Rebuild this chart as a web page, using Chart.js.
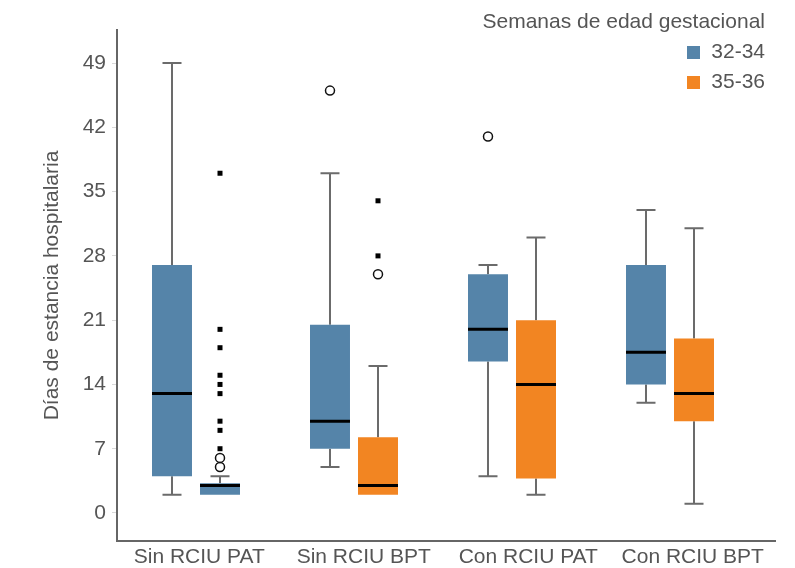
<!DOCTYPE html>
<html>
<head>
<meta charset="utf-8">
<script src="https://cdn.jsdelivr.net/npm/chart.js@4"></script>
<style>
  body { margin: 0; background: #fff; }
  #wrap { position: relative; width: 795px; height: 568px; }
  #legend { position: absolute; right: 30px; top: 6px; text-align: right;
            font: 21px 'Liberation Sans', Arial, sans-serif; color: #555; line-height: 30px; }
  .sw { display: inline-block; width: 13px; height: 13px; margin-right: 11px; vertical-align: -1px; }
</style>
</head>
<body>
<div id="wrap">
  <canvas id="ourBox" width="795" height="568"></canvas>
  <div id="legend">
    <div>Semanas de edad gestacional</div>
    <div><span class="sw" style="background:#5584a9"></span>32-34</div>
    <div><span class="sw" style="background:#f28522"></span>35-36</div>
  </div>
</div>
<script>
const categories = ['Sin RCIU PAT', 'Sin RCIU BPT', 'Con RCIU PAT', 'Con RCIU BPT'];
const seriesNames = ['32-34', '35-36'];

// 32-34 semanas
const min3234 = [2, 5, 4, 12];
const q1_3234 = [4, 7, 16.5, 14];
const med3234 = [13, 10, 20, 17.5];
const q3_3234 = [27, 20.5, 26, 27];
const max3234 = [49, 37, 27, 33];
const out3234 = [[], [46], [41], []];          // circles
const ext3234 = [[], [], [], []];              // squares

// 35-36 semanas
const min3536 = [2, 2, 2, 1];
const q1_3536 = [2, 2, 3.75, 10];
const med3536 = [3, 3, 14, 13];
const q3_3536 = [3.25, 8.25, 21, 19];
const max3536 = [4, 16, 30, 31];
const out3536 = [[5, 6], [26], [], []];
const ext3536 = [[7, 9, 10, 13, 14, 15, 18, 20, 37], [28, 34], [], []];

const blue = '#5584a9';
const orange = '#f28522';

const stats = [
    {min: min3234, q1: q1_3234, med: med3234, q3: q3_3234, max: max3234, out: out3234, ext: ext3234},
    {min: min3536, q1: q1_3536, med: med3536, q3: q3_3536, max: max3536, out: out3536, ext: ext3536}
];

function eachBox(chart, fn) {
    stats.forEach((s, d) => {
        chart.getDatasetMeta(d).data.forEach((bar, i) => fn(s, i, bar));
    });
}

const boxParts = {
    id: 'boxParts',
    afterLayout(chart) {
        // boxes sit a bit tighter than the category labels
        const xb = chart.scales.xb;
        xb.right = chart.chartArea.right - 26;
        xb.configure();
    },
    beforeDatasetsDraw(chart) {
        const ctx = chart.ctx, y = chart.scales.y;
        ctx.save();
        ctx.strokeStyle = '#6b6b6b';
        ctx.lineWidth = 2;
        eachBox(chart, (s, i, bar) => {
            const top = y.getPixelForValue(s.max[i]);
            ctx.beginPath();
            ctx.moveTo(bar.x, y.getPixelForValue(s.q3[i])); ctx.lineTo(bar.x, top);
            ctx.moveTo(bar.x - 9.5, top); ctx.lineTo(bar.x + 9.5, top);
            if (s.min[i] < s.q1[i]) {
                const bot = y.getPixelForValue(s.min[i]);
                ctx.moveTo(bar.x, y.getPixelForValue(s.q1[i])); ctx.lineTo(bar.x, bot);
                ctx.moveTo(bar.x - 9.5, bot); ctx.lineTo(bar.x + 9.5, bot);
            }
            ctx.stroke();
        });
        ctx.restore();
    },
    afterDatasetsDraw(chart) {
        const ctx = chart.ctx, y = chart.scales.y;
        ctx.save();
        eachBox(chart, (s, i, bar) => {
            // median
            const m = y.getPixelForValue(s.med[i]);
            ctx.strokeStyle = '#000';
            ctx.lineWidth = 3;
            ctx.beginPath();
            ctx.moveTo(bar.x - bar.width / 2, m); ctx.lineTo(bar.x + bar.width / 2, m);
            ctx.stroke();
            // outliers
            ctx.strokeStyle = '#111';
            ctx.lineWidth = 1.5;
            s.out[i].forEach(v => {
                ctx.beginPath();
                ctx.arc(bar.x, y.getPixelForValue(v), 4.5, 0, Math.PI * 2);
                ctx.stroke();
            });
            ctx.fillStyle = '#000';
            s.ext[i].forEach(v => {
                ctx.fillRect(bar.x - 2.5, y.getPixelForValue(v) - 2.5, 5, 5);
            });
        });
        ctx.restore();
    }
};

Chart.defaults.font.family = "'Liberation Sans', Arial, sans-serif";
Chart.defaults.color = '#555';

new Chart(document.getElementById('ourBox'), {
    type: 'bar',
    data: {
        labels: categories,
        datasets: [
            {
                label: seriesNames[0],
                data: q1_3234.map((v, i) => [v, q3_3234[i]]),
                backgroundColor: blue,
                borderWidth: 0,
                xAxisID: 'xb',
                categoryPercentage: 0.6076,
                barPercentage: 0.833
            },
            {
                label: seriesNames[1],
                data: q1_3536.map((v, i) => [v, q3_3536[i]]),
                backgroundColor: [blue, orange, orange, orange],
                borderWidth: 0,
                xAxisID: 'xb',
                categoryPercentage: 0.6076,
                barPercentage: 0.833
            }
        ]
    },
    plugins: [boxParts],
    options: {
        responsive: false,
        animation: false,
        devicePixelRatio: 1,
        layout: { padding: { top: 30, right: 20, bottom: 0, left: 0 } },
        plugins: {
            legend: { display: false },
            tooltip: { enabled: false }
        },
        scales: {
            x: {
                type: 'category',
                ticks: { color: '#555', font: { size: 21 }, padding: 4, maxRotation: 0, autoSkip: false },
                grid: { display: true, drawOnChartArea: false, drawTicks: false },
                border: { color: '#666', width: 2 },
                afterFit(s) { s.height = 27; }
            },
            xb: {
                type: 'category',
                display: false
            },
            y: {
                min: -3.05,
                max: 52.6,
                ticks: { stepSize: 7, includeBounds: false, color: '#555', font: { size: 21 }, padding: 6 },
                grid: { drawOnChartArea: false, color: '#d9d9d9', tickLength: 5 },
                border: { color: '#666', width: 2 },
                title: {
                    display: true,
                    text: 'Días de estancia hospitalaria',
                    color: '#555',
                    font: { size: 21 },
                    padding: { top: 40, bottom: 0 }
                },
                afterFit(s) { s.width = 117; }
            }
        }
    }
});
</script>
</body>
</html>
